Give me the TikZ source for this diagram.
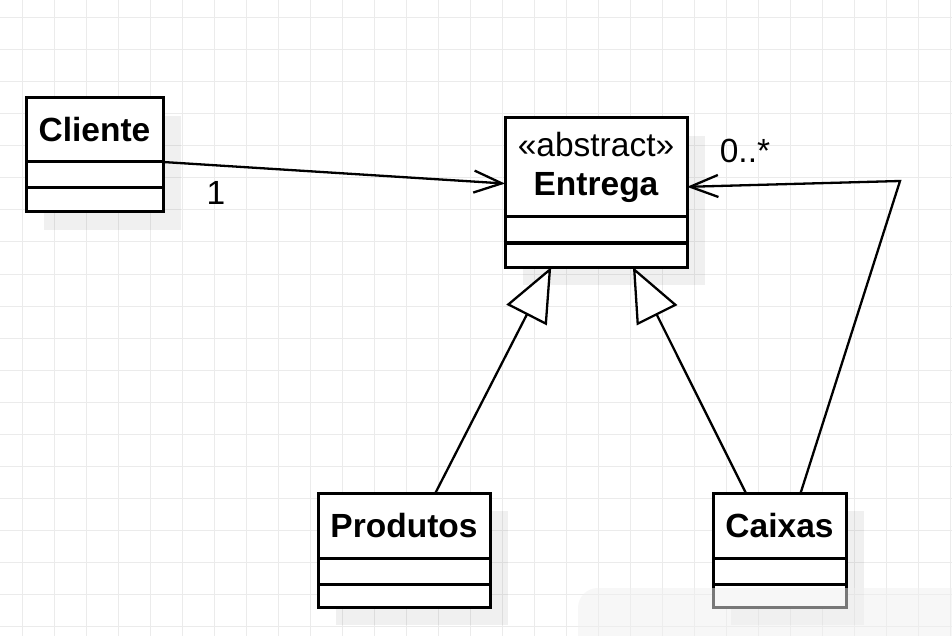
\documentclass[tikz,border=0pt]{standalone}
\usepackage{fontspec}
\setmainfont{Liberation Sans}
\usepackage{tikz}
\usetikzlibrary{positioning}
\usetikzlibrary{arrows.meta, backgrounds}

\tikzset{
    classhead/.style={draw, line width=1.5pt, fill=white, inner sep=0pt, outer sep=0pt, font=\fontsize{16.75}{19.5}\selectfont\bfseries},
    compart/.style={draw, line width=1.5pt, fill=white, inner sep=0pt, outer sep=0pt},
    assoc/.style={line width=1.15pt, -{Straight Barb[length=14pt, width=11pt]}},
    inherit/.style={line width=1.15pt, -{Triangle[length=27pt, width=22.5pt, fill=white]}},
    gridline/.style={draw=black!8, line width=0.5pt},
    shadowbox/.style={fill=black, fill opacity=0.06},
}

\begin{document}
\begin{tikzpicture}[x=0.5pt, y=-0.5pt, font=\fontsize{16.75}{19.5}\selectfont]
        \useasboundingbox (0,0) rectangle (952,636);

        % grid
        \begin{scope}[on background layer]
            \fill[white] (0,0) rectangle (952,636);
            \foreach \gx in {22,54,...,950} \draw[gridline] (\gx,0) -- (\gx,636);
            \foreach \gy in {18,50,...,634} \draw[gridline] (0,\gy) -- (952,\gy);
        \end{scope}

        % classes
        \node (cliente)[classhead, minimum width=68.5pt, minimum height=32pt] at (94.5,130) {Cliente};
        \node (cliente-a)[compart, minimum width=68.5pt, minimum height=13pt, below=0pt of cliente] {};
        \node (cliente-o)[compart, minimum width=68.5pt, minimum height=12pt, below=0pt of cliente-a] {};

        \node (entrega)[classhead, minimum width=91pt, minimum height=49.5pt, align=center] at (596,167.5) {{\mdseries«abstract»}\\Entrega};
        \node (entrega-a)[compart, minimum width=91pt, minimum height=13pt, below=0pt of entrega] {};
        \node (entrega-o)[compart, minimum width=91pt, minimum height=12pt, below=0pt of entrega-a] {};

        \node (produtos)[classhead, minimum width=86pt, minimum height=32.5pt] at (404,525.5) {Produtos};
        \node (produtos-a)[compart, minimum width=86pt, minimum height=13pt, below=0pt of produtos] {};
        \node (produtos-o)[compart, minimum width=86pt, minimum height=11.5pt, below=0pt of produtos-a] {};

        \node (caixas)[classhead, minimum width=66.5pt, minimum height=32.5pt] at (779.5,525.5) {Caixas};
        \node (caixas-a)[compart, minimum width=66.5pt, minimum height=13pt, below=0pt of caixas] {};
        \node (caixas-o)[compart, minimum width=66.5pt, minimum height=11.5pt, below=0pt of caixas-a] {};

        % shadows
        \begin{scope}[on background layer]
            \fill[shadowbox] ([shift={(18,18)}]cliente.north west) rectangle ([shift={(18,18)}]cliente-o.south east);
            \fill[shadowbox] ([shift={(18,18)}]entrega.north west) rectangle ([shift={(18,18)}]entrega-o.south east);
            \fill[shadowbox] ([shift={(18,18)}]produtos.north west) rectangle ([shift={(18,18)}]produtos-o.south east);
            \fill[shadowbox] ([shift={(18,18)}]caixas.north west) rectangle ([shift={(18,18)}]caixas-o.south east);
        \end{scope}

        % connectors
        \coordinate (turn) at (900,181);
        \draw[assoc] (cliente.south east) -- (entrega.190);
        \draw[assoc] (caixas.57) -- (turn) -- (entrega.-12);
        \draw[inherit] (produtos.46) -- (entrega-o.195);
        \draw[inherit] (caixas.136) -- (entrega-o.-18);

        \node (mult-one) at (216,193) {1};
        \node (mult-many) at (745,151) {0..*};

        % overlay
        \fill[gray!12, fill opacity=0.5, rounded corners=10pt] (578,588) rectangle (990,680);

    \end{tikzpicture}
\end{document}
